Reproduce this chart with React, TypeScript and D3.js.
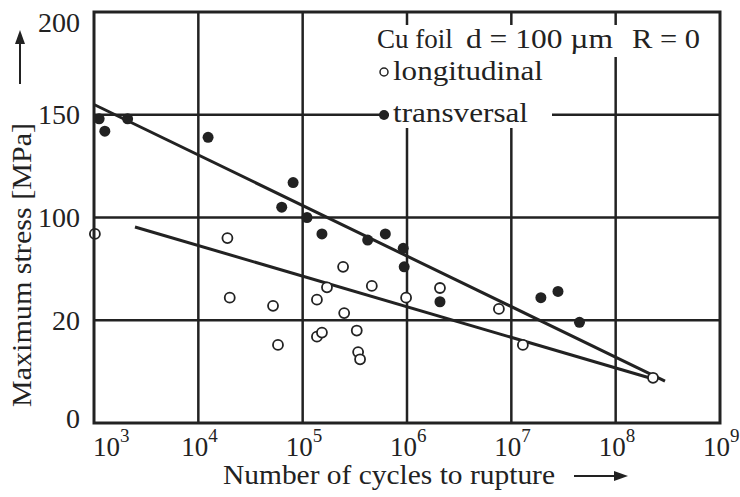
import React from 'react';
import * as d3 from 'd3';

// values
const decades = [1e3, 1e4, 1e5, 1e6, 1e7, 1e8, 1e9];
const decadeExponents = ['3', '4', '5', '6', '7', '8', '9'];
const stressTicks = [0, 50, 100, 150, 200];
const stressTickLabels = ['0', '20', '100', '150', '200'];

const transversalN = [1.12e3, 1.27e3, 2.1e3, 1.24e4, 6.3e4, 8.1e4, 1.1e5, 1.53e5, 4.2e5, 6.2e5, 9.2e5, 9.4e5, 2.07e6, 1.92e7, 2.8e7, 4.5e7];
const transversalStress = [148, 142, 148, 139, 105, 117, 100, 92, 89, 92, 85, 76, 59, 61, 64, 49];

const longitudinalN = [1.02e3, 1.9e4, 2.0e4, 5.2e4, 5.8e4, 1.37e5, 1.37e5, 1.53e5, 1.71e5, 2.44e5, 2.5e5, 3.3e5, 3.4e5, 3.55e5, 4.6e5, 9.8e5, 2.07e6, 7.6e6, 1.29e7, 2.28e8];
const longitudinalStress = [92, 90, 61, 57, 38, 60, 42, 44, 66, 76, 53.5, 45, 34.5, 31, 66.7, 61, 65.7, 55.5, 38, 22];

const transversalFitN = [1e3, 2.97e8];
const transversalFitStress = [155, 20.4];
const longitudinalFitN = [2.47e3, 2.13e8];
const longitudinalFitStress = [95.4, 21.9];

const W = 740;
const H = 497;
const left = 94;
const right = 720;
const top = 12;
const bottom = 423;
const ink = '#222';
const font = "'Liberation Serif', 'Times New Roman', Times, serif";

const App: React.FC = () => {
  const x = d3.scaleLog().domain([1e3, 1e9]).range([left, right]);
  const y = d3.scaleLinear().domain([0, 200]).range([bottom, top]);

  const line = d3.line<[number, number]>()
    .x((d) => x(d[0]))
    .y((d) => y(d[1]));

  const tFit = transversalFitN.map((n, i) => [n, transversalFitStress[i]] as [number, number]);
  const lFit = longitudinalFitN.map((n, i) => [n, longitudinalFitStress[i]] as [number, number]);

  return (
    <svg width={W} height={H} style={{ position: 'absolute', left: 0, top: 0, background: '#fff', fontFamily: font }}
      fill={ink}>
      {/* grid */}
      {stressTicks.slice(1, -1).map((v) => (
        <line key={'h' + v} x1={left} x2={right} y1={y(v)} y2={y(v)} stroke={ink} strokeWidth={2.5} />
      ))}
      {decades.slice(1, -1).map((d) => (
        <line key={'v' + d} x1={x(d)} x2={x(d)} y1={top} y2={bottom} stroke={ink} strokeWidth={2.5} />
      ))}

      {/* legend knockouts */}
      <rect x={372} y={25} width={336} height={32} fill="#fff" />
      <rect x={375} y={57} width={173} height={43} fill="#fff" />
      <rect x={389} y={100} width={163} height={28} fill="#fff" />

      {/* fit lines */}
      <path d={line(tFit) || ''} fill="none" stroke={ink} strokeWidth={3} />
      <path d={line(lFit) || ''} fill="none" stroke={ink} strokeWidth={3} />

      {/* points */}
      {longitudinalN.map((n, i) => (
        <circle key={'l' + i} cx={x(n)} cy={y(longitudinalStress[i])} r={5} fill="#fff" stroke={ink} strokeWidth={1.8} />
      ))}
      {transversalN.map((n, i) => (
        <circle key={'t' + i} cx={x(n)} cy={y(transversalStress[i])} r={5.5} fill={ink} />
      ))}

      {/* frame */}
      <rect x={left} y={top} width={right - left} height={bottom - top} fill="none" stroke={ink} strokeWidth={3} />

      {/* legend */}
      <g fontSize={27}>
        <text x={377} y={48}>Cu foil</text>
        <text x={466} y={48} textLength={147} lengthAdjust="spacingAndGlyphs">d = 100 µm</text>
        <text x={632} y={48} textLength={68} lengthAdjust="spacingAndGlyphs">R = 0</text>
        <circle cx={384} cy={72} r={4} fill="#fff" stroke={ink} strokeWidth={1.5} />
        <text x={393} y={80} textLength={150} lengthAdjust="spacingAndGlyphs">longitudinal</text>
        <circle cx={384} cy={115} r={5} fill={ink} />
        <text x={393} y={122} textLength={135} lengthAdjust="spacingAndGlyphs">transversal</text>
      </g>

      {/* y ticks */}
      {stressTicks.map((v, i) => (
        <text key={'yt' + v} x={80} y={Math.min(Math.max(y(v), 22), 418)} fontSize={28}
          textAnchor="end" dominantBaseline="central">{stressTickLabels[i]}</text>
      ))}

      {/* x ticks */}
      {decades.map((d, i) => {
        const cx = Math.max(x(d), 110);
        return (
          <text key={'xt' + d} x={cx - 17} y={456} fontSize={27}>
            10<tspan fontSize={19} dy={-14}>{decadeExponents[i]}</tspan>
          </text>
        );
      })}

      {/* axis titles */}
      <text x={223} y={484} fontSize={27} textLength={332} lengthAdjust="spacingAndGlyphs">
        Number of cycles to rupture
      </text>
      <line x1={574} x2={616} y1={476} y2={476} stroke={ink} strokeWidth={2} />
      <path d="M 628 476 L 614 471 L 614 481 Z" fill={ink} />

      <text transform="translate(31,265) rotate(-90)" textAnchor="middle" fontSize={27}
        textLength={284} lengthAdjust="spacingAndGlyphs">
        Maximum stress  [MPa]
      </text>
      <line x1={20} x2={20} y1={84} y2={42} stroke={ink} strokeWidth={2} />
      <path d="M 20 30 L 15 44 L 25 44 Z" fill={ink} />
    </svg>
  );
};

export default App;
